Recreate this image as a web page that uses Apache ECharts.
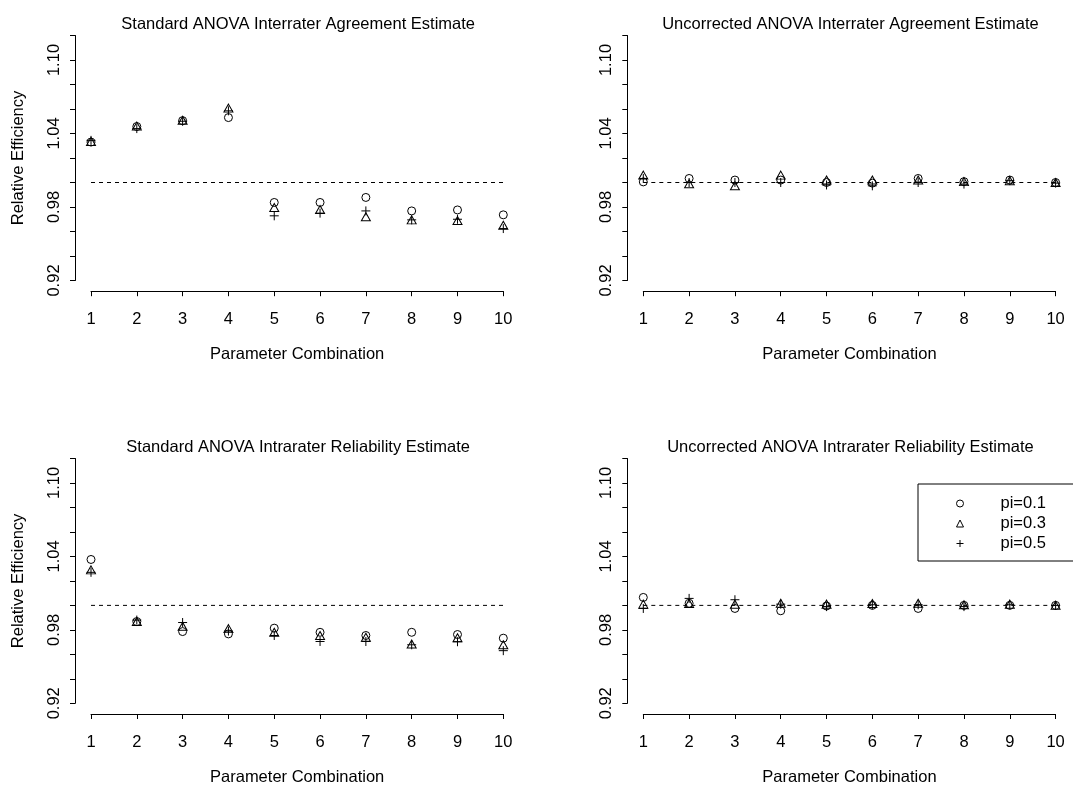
<!DOCTYPE html>
<html>
<head>
<meta charset="utf-8">
<script src="https://cdn.jsdelivr.net/npm/echarts@6/dist/echarts.min.js"></script>
<style>
html,body{margin:0;padding:0;background:#fff;}
#chart{width:1073px;height:787px;}
</style>
</head>
<body>
<div id="chart"></div>
<script>
// ---- data ----
var combos = [1,2,3,4,5,6,7,8,9,10];
var seriesNames = ['pi=0.1','pi=0.3','pi=0.5'];
var yTickLabels = ['0.92','0.98','1.04','1.10'];
var panelTitles = [
  'Standard ANOVA Interrater Agreement Estimate',
  'Uncorrected ANOVA Interrater Agreement Estimate',
  'Standard ANOVA Intrarater Reliability Estimate',
  'Uncorrected ANOVA Intrarater Reliability Estimate'
];
var refValue = 1.00;

// Standard ANOVA Interrater
var stdInter_p1 = [1.033, 1.0457, 1.0505, 1.053, 0.9837, 0.9837, 0.9878, 0.9768, 0.9776, 0.9736];
var stdInter_p3 = [1.0335, 1.046, 1.0508, 1.0607, 0.9796, 0.978, 0.972, 0.9695, 0.969, 0.9651];
var stdInter_p5 = [1.0344, 1.044, 1.050, 1.0585, 0.9728, 0.975, 0.9768, 0.9695, 0.970, 0.9624];
// Uncorrected ANOVA Interrater
var uncInter_p1 = [1.0005, 1.0033, 1.002, 1.002, 1.000, 0.9995, 1.0033, 1.0007, 1.002, 1.000];
var uncInter_p3 = [1.006, 0.999, 0.9973, 1.006, 1.002, 1.002, 1.002, 1.0007, 1.0015, 1.000];
var uncInter_p5 = [1.0033, 1.000, 1.000, 1.000, 0.998, 0.9973, 1.000, 0.9987, 1.0015, 0.9995];
// Standard ANOVA Intrarater
var stdIntra_p1 = [1.0375, 0.9868, 0.9786, 0.9767, 0.9814, 0.978, 0.9754, 0.978, 0.9762, 0.9732];
var stdIntra_p3 = [1.029, 0.9868, 0.983, 0.981, 0.978, 0.9754, 0.974, 0.9685, 0.9735, 0.9678];
var stdIntra_p5 = [1.027, 0.988, 0.986, 0.979, 0.9754, 0.9705, 0.9705, 0.9678, 0.9703, 0.963];
// Uncorrected ANOVA Intrarater
var uncIntra_p1 = [1.0065, 1.0017, 0.9975, 0.9956, 0.9995, 1.000, 0.9975, 1.000, 1.000, 1.000];
var uncIntra_p3 = [1.001, 1.0015, 1.001, 1.0017, 1.001, 1.0015, 1.0017, 1.0005, 1.001, 1.000];
var uncIntra_p5 = [0.9975, 1.0057, 1.0046, 1.001, 0.999, 1.0005, 1.0005, 0.999, 1.0005, 1.000];

var panelData = [
  [stdInter_p1, stdInter_p3, stdInter_p5],
  [uncInter_p1, uncInter_p3, uncInter_p5],
  [stdIntra_p1, stdIntra_p3, stdIntra_p5],
  [uncIntra_p1, uncIntra_p3, uncIntra_p5]
];

// ---- layout ----
var FONT = '"Liberation Sans", Arial, sans-serif';
var FS = 16.5;
var grids = [
  {left: 91,    width: 412.3, top: 35.5,  height: 245},
  {left: 643.3, width: 412.3, top: 35.5,  height: 245},
  {left: 91,    width: 412.3, top: 458.5, height: 245},
  {left: 643.3, width: 412.3, top: 458.5, height: 245}
];
var PLUS = 'path://M4,0L4,8M0,4L8,4';
var symbols = [
  {symbol: 'circle', size: 8},
  {symbol: 'triangle', size: [9, 8]},
  {symbol: PLUS, size: 9}
];

var option = {
  animation: false,
  backgroundColor: '#fff',
  textStyle: {fontFamily: FONT, color: '#000'},
  title: [], grid: [], xAxis: [], yAxis: [], series: [],
  legend: {
    orient: 'vertical',
    left: 918, top: 484,
    padding: [11, 40, 9, 38],
    itemWidth: 7, itemHeight: 7, itemGap: 3,
    borderColor: '#000', borderWidth: 1, borderRadius: 0,
    backgroundColor: '#fff',
    selectedMode: false,
    itemStyle: {color: 'rgba(0,0,0,0)', borderColor: '#000', borderWidth: 1},
    textStyle: {fontFamily: FONT, fontSize: FS, color: '#000', lineHeight: 16, padding: [0, 0, 0, 32]},
    data: [
      {name: seriesNames[0], icon: 'circle'},
      {name: seriesNames[1], icon: 'triangle'},
      {name: seriesNames[2], icon: PLUS}
    ]
  }
};

grids.forEach(function (g, i) {
  option.grid.push({left: g.left, top: g.top, width: g.width, height: g.height, containLabel: false});
  option.title.push({
    text: panelTitles[i],
    left: g.left + g.width / 2 - 4, top: g.top - 25, textAlign: 'center',
    textStyle: {fontFamily: FONT, fontSize: 16.5, fontWeight: 'normal', color: '#000'}
  });
  option.xAxis.push({
    type: 'value', gridIndex: i, min: 1, max: 10, interval: 1,
    offset: 10.7,
    name: 'Parameter Combination', nameLocation: 'middle', nameGap: 55,
    nameTextStyle: {fontFamily: FONT, fontSize: FS, color: '#000'},
    axisLine: {show: true, onZero: false, lineStyle: {color: '#000', width: 1}},
    axisTick: {show: true, length: 5, lineStyle: {color: '#000', width: 1}},
    axisLabel: {fontFamily: FONT, fontSize: FS, color: '#000', margin: 20},
    splitLine: {show: false}
  });
  option.yAxis.push({
    type: 'value', gridIndex: i, min: 0.92, max: 1.12, interval: 0.02,
    offset: 16,
    name: (i % 2 === 0) ? 'Relative Efficiency' : '',
    nameLocation: 'middle', nameGap: 48,
    nameTextStyle: {fontFamily: FONT, fontSize: FS, color: '#000'},
    axisLine: {show: true, onZero: false, lineStyle: {color: '#000', width: 1}},
    axisTick: {show: true, length: 5, lineStyle: {color: '#000', width: 1}},
    axisLabel: {
      fontFamily: FONT, fontSize: FS, color: '#000', rotate: 90, margin: 12,
      formatter: function (v) {
        var s = v.toFixed(2);
        return yTickLabels.indexOf(s) >= 0 ? s : '';
      }
    },
    splitLine: {show: false}
  });
  option.series.push({
    type: 'line', name: 'ref', xAxisIndex: i, yAxisIndex: i,
    data: [[combos[0], refValue], [combos[combos.length - 1], refValue]],
    symbol: 'none', silent: true,
    lineStyle: {color: '#000', width: 1, type: [4, 4]}
  });
  panelData[i].forEach(function (vals, k) {
    option.series.push({
      type: 'scatter', name: seriesNames[k], xAxisIndex: i, yAxisIndex: i,
      symbol: symbols[k].symbol, symbolSize: symbols[k].size,
      itemStyle: {color: 'rgba(0,0,0,0)', borderColor: '#000', borderWidth: 1, opacity: 1},
      data: combos.map(function (c, j) { return [c, vals[j]]; }),
      clip: false
    });
  });
});

var chart = echarts.init(document.getElementById('chart'), null, {renderer: 'canvas'});
chart.setOption(option);
</script>
</body>
</html>
